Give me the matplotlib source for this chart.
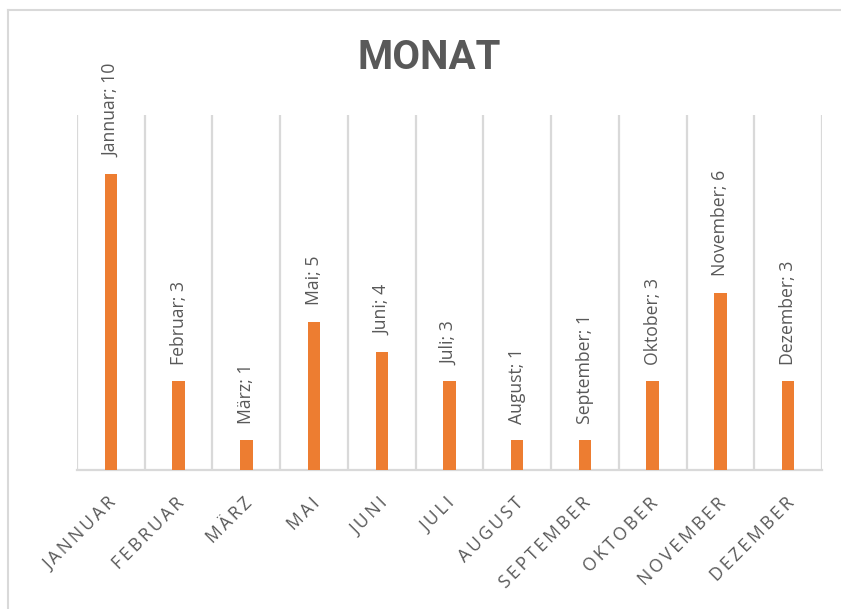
import matplotlib
matplotlib.use("Agg")
import matplotlib.pyplot as plt
import matplotlib.transforms as mtransforms
from matplotlib.lines import Line2D

months = ["Jannuar", "Februar", "März", "Mai", "Juni", "Juli", "August",
          "September", "Oktober", "November", "Dezember"]
counts = [10, 3, 1, 5, 4, 3, 1, 1, 3, 6, 3]
title = "MONAT"

bar_color = "#ED7D31"
grid_color = "#D9D9D9"
text_color = "#595959"
fonts = ["Open Sans", "DejaVu Sans"]

W, H = 841, 609
fig = plt.figure(figsize=(W / 100, H / 100), dpi=100)
fig.patch.set_facecolor("white")

# plot area in pixels: x 77..822, y 115..470 (from top)
ax = fig.add_axes([77 / W, 1 - 470 / H, (822 - 77) / W, (470 - 115) / H])
x = list(range(len(months)))
ax.bar(x, counts, width=0.185, color=bar_color, zorder=3)
ax.set_xlim(-0.5, len(months) - 0.5)
ax.set_ylim(0, 12)

for edge in [i - 0.5 for i in range(len(months) + 1)]:
    ax.axvline(edge, color=grid_color, lw=1.6, zorder=1)
for side in ["top", "right", "left"]:
    ax.spines[side].set_visible(False)
ax.spines["bottom"].set_color(grid_color)
ax.spines["bottom"].set_linewidth(1.6)
ax.set_yticks([])
ax.tick_params(axis="x", length=0, pad=22)

# letter-spaced uppercase labels, thin space between letters
ax.set_xticks(x)
ax.set_xticklabels(["\u2009".join(m.upper()) for m in months], rotation=45,
                   ha="right", va="center", rotation_mode="anchor",
                   fontsize=12.7, color=text_color, family=fonts)
shift = mtransforms.ScaledTranslation(3 / 100, 0, fig.dpi_scale_trans)
for lbl in ax.get_xticklabels():
    lbl.set_transform(lbl.get_transform() + shift)

for xi, name, v in zip(x, months, counts):
    ax.annotate(f"{name}; {v}", (xi, v), xytext=(0, 12),
                textcoords="offset points", rotation=90, ha="center",
                va="bottom", fontsize=12.7, color=text_color, family=fonts)

fig.text(429.5 / W, 1 - 58 / H, title, ha="center", va="center",
         fontsize=29, fontweight="bold", color=text_color,
         family=["Roboto", "DejaVu Sans"])

# chart frame (only top and left edges visible)
fig.add_artist(Line2D([8 / W, 1], [1 - 9.5 / H, 1 - 9.5 / H],
                      transform=fig.transFigure, color=grid_color, lw=1.5))
fig.add_artist(Line2D([8 / W, 8 / W], [0, 1 - 9.5 / H],
                      transform=fig.transFigure, color=grid_color, lw=1.5))

fig.savefig("out.png", dpi=100)
